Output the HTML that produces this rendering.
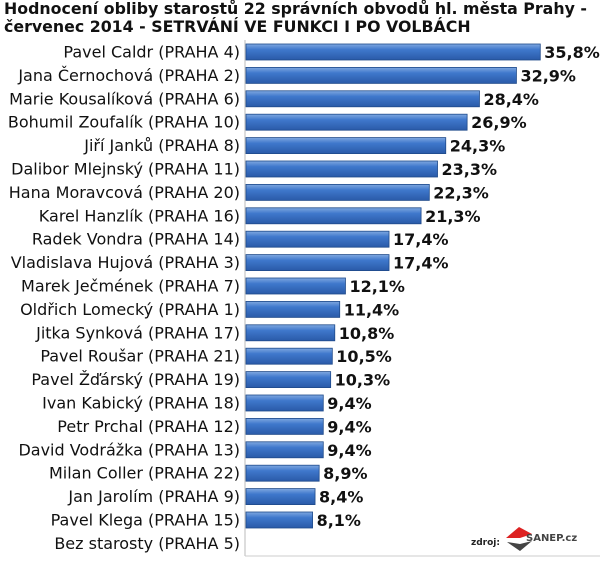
<!DOCTYPE html>
<html><head><meta charset="utf-8"><style>
body{margin:0;background:#fff;width:600px;height:561px;overflow:hidden;font-family:"DejaVu Sans","Liberation Sans",sans-serif}
#title{position:absolute;left:4px;top:0px;font-weight:bold;font-size:15.8px;line-height:18px;color:#111;white-space:nowrap}
svg{position:absolute;left:0;top:0}
</style></head><body>
<div id="title">Hodnocení obliby starostů 22 správních obvodů hl. města Prahy -<br>červenec 2014 - SETRVÁNÍ VE FUNKCI I PO VOLBÁCH</div>
<svg id="chart" width="600" height="561">
<defs><linearGradient id="g" x1="0" y1="0" x2="0" y2="1">
<stop offset="0" stop-color="#7fa8e0"/><stop offset="0.35" stop-color="#3f78cc"/><stop offset="1" stop-color="#2a5aa8"/></linearGradient></defs>
</svg>
<script>
const categories=["Pavel Caldr (PRAHA 4)","Jana Černochová (PRAHA 2)","Marie Kousalíková (PRAHA 6)","Bohumil Zoufalík (PRAHA 10)","Jiří Janků (PRAHA 8)","Dalibor Mlejnský (PRAHA 11)","Hana Moravcová (PRAHA 20)","Karel Hanzlík (PRAHA 16)","Radek Vondra (PRAHA 14)","Vladislava Hujová (PRAHA 3)","Marek Ječmének (PRAHA 7)","Oldřich Lomecký (PRAHA 1)","Jitka Synková (PRAHA 17)","Pavel Roušar (PRAHA 21)","Pavel Žďárský (PRAHA 19)","Ivan Kabický (PRAHA 18)","Petr Prchal (PRAHA 12)","David Vodrážka (PRAHA 13)","Milan Coller (PRAHA 22)","Jan Jarolím (PRAHA 9)","Pavel Klega (PRAHA 15)","Bez starosty (PRAHA 5)"];
const values=[35.8,32.9,28.4,26.9,24.3,23.3,22.3,21.3,17.4,17.4,12.1,11.4,10.8,10.5,10.3,9.4,9.4,9.4,8.9,8.4,8.1,null];
const NS="http://www.w3.org/2000/svg";
const svg=document.getElementById('chart');
const x0=246, k=8.22;
const xs=v=>x0+v*k;
const yc=i=>52+i*23.4;
function mk(t,a){const e=document.createElementNS(NS,t);for(const n in a)e.setAttribute(n,a[n]);svg.appendChild(e);return e;}
const ax=mk('line',{x1:245,y1:40,x2:245,y2:556,stroke:'#bbb'});


const bl=mk('line',{x1:245,y1:556,x2:600,y2:556,stroke:'#ccc'});


categories.forEach((c,i)=>{
 const t=mk('text',{x:240,y:yc(i)+5.5,'text-anchor':'end','font-size':'16',fill:'#111'});
 t.textContent=c;
 
 
 const v=values[i];
 if(v==null)return;
 const r=mk('rect',{x:x0,y:yc(i)-8,width:xs(v)-x0,height:16,fill:'url(#g)',stroke:'#1f4a8a','stroke-width':'0.8'});
 
 
 const l=mk('text',{x:xs(v)+4,y:yc(i)+6,'font-size':'16','font-weight':'bold',fill:'#111'});
 l.textContent=v.toFixed(1).replace('.',',')+'%';
 
 
});
const z=mk('text',{x:471,y:545,'font-size':'9','font-weight':'bold',fill:'#222'});
z.textContent='zdroj:';


const lg=mk('path',{d:'M506 538 L519 527 L532 534 L520 538 Z',fill:'#d22'});


const lg2=mk('path',{d:'M507 542 L520 551 L532 541 L520 544 Z',fill:'#444'});


const s=mk('text',{x:526,y:541,'font-size':'10','font-weight':'bold',fill:'#444'});
s.textContent='SANEP.cz';


</script>
</body></html>
